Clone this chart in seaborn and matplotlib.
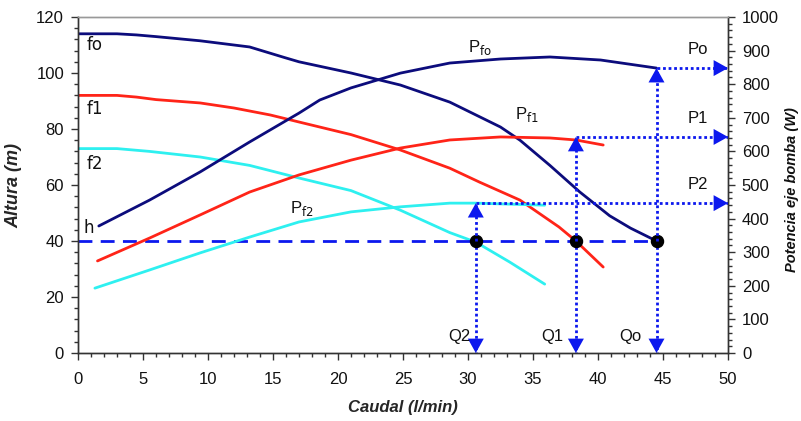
import numpy as np
import pandas as pd
import matplotlib
matplotlib.use("Agg")
import matplotlib.pyplot as plt
import seaborn as sns
from matplotlib.ticker import MultipleLocator

# ---------------- data ----------------
# Head curves (Altura, m) vs flow (Caudal, l/min)
q_f0 = [0, 3, 4.5, 6, 9.4, 13.2, 15.9, 17, 21, 24.8, 28.6, 32.5, 34, 36.3, 38.6, 40.9, 42.5, 44.5]
h_f0 = [114, 114, 113.6, 113, 111.5, 109.3, 105.5, 104, 100, 95.7, 89.6, 80.7, 76, 67, 57.5, 49, 44.6, 40]

q_f1 = [0, 3, 4.5, 6, 9.4, 12, 14.8, 17, 21, 24.8, 28.6, 30.9, 34, 37, 38.3, 40.4]
h_f1 = [92, 92, 91.4, 90.5, 89.3, 87.5, 85, 82.5, 78, 72.5, 66, 61, 54.6, 45, 40, 30.7]

q_f2 = [0, 3, 5.5, 9.4, 13.2, 17, 21, 24.8, 28.6, 30.6, 33.2, 35.9]
h_f2 = [73, 73, 72, 70, 67, 62.5, 58, 51, 43, 39.6, 32.5, 24.6]

# Power curves (Potencia eje bomba, W)
q_p0 = [1.6, 5.5, 9.4, 13.2, 17, 18.6, 21, 24.8, 28.6, 32.5, 36.3, 40.2, 44.5]
p_p0 = [378, 455, 539, 628, 714, 753, 789, 833, 863, 875, 881, 872, 848]

q_p1 = [1.5, 5.5, 9.4, 13.2, 17, 21, 24.8, 28.6, 32.5, 36.3, 38.3, 40.4]
p_p1 = [274, 342, 411, 479, 530, 574, 610, 634, 643, 640, 634, 619]

q_p2 = [1.3, 5.5, 9.4, 13.2, 17, 21, 24.8, 28.6, 30.6, 35.9]
p_p2 = [193, 247, 298, 345, 390, 420, 435, 446, 446, 440]

# Operating points
h_level = 40
q_op = [30.6, 38.3, 44.5]
p_op = [446, 643, 848]
q_labels = ["Q2", "Q1", "Qo"]
p_labels = ["P2", "P1", "Po"]

# ---------------- style ----------------
sns.set_theme(style="white")
plt.rcParams['font.family'] = ['Liberation Sans', 'DejaVu Sans']

NAVY = "#0c0c7c"
RED = "#ff2418"
CYAN = "#2ef0f0"
BLUE = "#0c18ee"

fig = plt.figure(figsize=(8.01, 4.21), dpi=100)
ax = fig.add_axes([78/801, 1-353/421, (728-78)/801, (353-17)/421])
ax2 = ax.twinx()

lw = 2.0
sns.lineplot(x=q_f0, y=h_f0, ax=ax, color=NAVY, lw=lw, sort=False)
sns.lineplot(x=q_f1, y=h_f1, ax=ax, color=RED, lw=lw, sort=False)
sns.lineplot(x=q_f2, y=h_f2, ax=ax, color=CYAN, lw=lw, sort=False)

sns.lineplot(x=q_p0, y=p_p0, ax=ax2, color=NAVY, lw=lw, sort=False)
sns.lineplot(x=q_p1, y=p_p1, ax=ax2, color=RED, lw=lw, sort=False)
sns.lineplot(x=q_p2, y=p_p2, ax=ax2, color=CYAN, lw=lw, sort=False)

ax.set_xlim(0, 50)
ax.set_ylim(0, 120)
ax2.set_ylim(0, 1000)

# horizontal dashed line h
ax.plot([0, max(q_op)], [h_level, h_level], color=BLUE, lw=2, ls=(0, (5, 3)))

# dotted guides and arrows
def arrow(axx, tip, tail):
    axx.annotate("", xy=tip, xytext=tail,
                 arrowprops=dict(arrowstyle="-|>,head_length=0.45,head_width=0.25",
                                 color=BLUE, lw=0,
                                 mutation_scale=23, shrinkA=0, shrinkB=0))

for q, p in zip(q_op, p_op):
    # vertical down to axis
    ax.plot([q, q], [h_level, 0], color=BLUE, lw=2, ls=(0, (1, 1)))
    arrow(ax, (q, 0), (q, 5))
    # vertical up to power curve
    ax2.plot([q, q], [h_level * 1000 / 120, p], color=BLUE, lw=2, ls=(0, (1, 1)))
    arrow(ax2, (q, p), (q, p - 40))
    # horizontal to right axis
    ax2.plot([q, 50], [p, p], color=BLUE, lw=2, ls=(0, (1, 1)))
    arrow(ax2, (50, p), (48.5, p))

ax.scatter(q_op, [h_level] * 3, s=75, color="black", zorder=6)

# labels for curves
cf = ['DejaVu Sans']
tc = "#111111"
ax.text(0.7, 110, "fo", fontsize=12, color=tc, family=cf, va="center")
ax.text(0.7, 87, "f1", fontsize=12, color=tc, family=cf, va="center")
ax.text(0.7, 67.5, "f2", fontsize=12, color=tc, family=cf, va="center")
ax.text(0.4, 44.5, "h", fontsize=12, color=tc, family=cf, va="center")
ax.text(30.0, 109, r"P$_{\mathrm{fo}}$", fontsize=12, color=tc, va="center")
ax.text(33.6, 85.3, r"P$_{\mathrm{f1}}$", fontsize=12, color=tc, va="center")
ax.text(16.3, 51.5, r"P$_{\mathrm{f2}}$", fontsize=12, color=tc, va="center")

for q, lab, lx in zip(q_op, q_labels, [28.5, 35.6, 41.6]):
    ax.text(lx, 5.8, lab, fontsize=12, color=tc, va="center")
for p, lab in zip(p_op, p_labels):
    ax2.text(46.9, p + 55, lab, fontsize=12, color=tc, va="center")

# ticks
ax.xaxis.set_major_locator(MultipleLocator(5))
ax.xaxis.set_minor_locator(MultipleLocator(1))
ax.yaxis.set_major_locator(MultipleLocator(20))
ax.yaxis.set_minor_locator(MultipleLocator(4))
ax2.yaxis.set_major_locator(MultipleLocator(100))
ax2.yaxis.set_minor_locator(MultipleLocator(20))

for a in (ax, ax2):
    a.tick_params(which="major", direction="out", length=5, width=1, color="#333333",
                  labelsize=12, labelcolor="#111111", pad=5)
    a.tick_params(which="minor", direction="out", length=3, width=1, color="#333333")
ax.tick_params(axis="x", which="major", pad=9)
ax.tick_params(axis="both", which="both", left=True, bottom=True, right=False, top=False)
ax2.tick_params(axis="y", which="both", right=True, left=False)

for a in (ax, ax2):
    for s in ("left", "bottom", "right"):
        a.spines[s].set_color("#333333")
        a.spines[s].set_linewidth(1)
    a.spines["top"].set_color("#999999")
    a.spines["top"].set_linewidth(1)

ax.set_xlabel("Caudal (l/min)", fontsize=12, fontweight="bold", fontstyle="italic", labelpad=9)
ax.set_ylabel("Altura (m)", fontsize=13, fontweight="bold", fontstyle="italic", labelpad=10)
fig.text(792/801, 1 - 190/421, "Potencia eje bomba (W)", rotation=90, ha="center", va="center",
         fontsize=10.5, fontweight="bold", fontstyle="italic", color="#111111")

fig.savefig("out.png", dpi=100, facecolor="white")
